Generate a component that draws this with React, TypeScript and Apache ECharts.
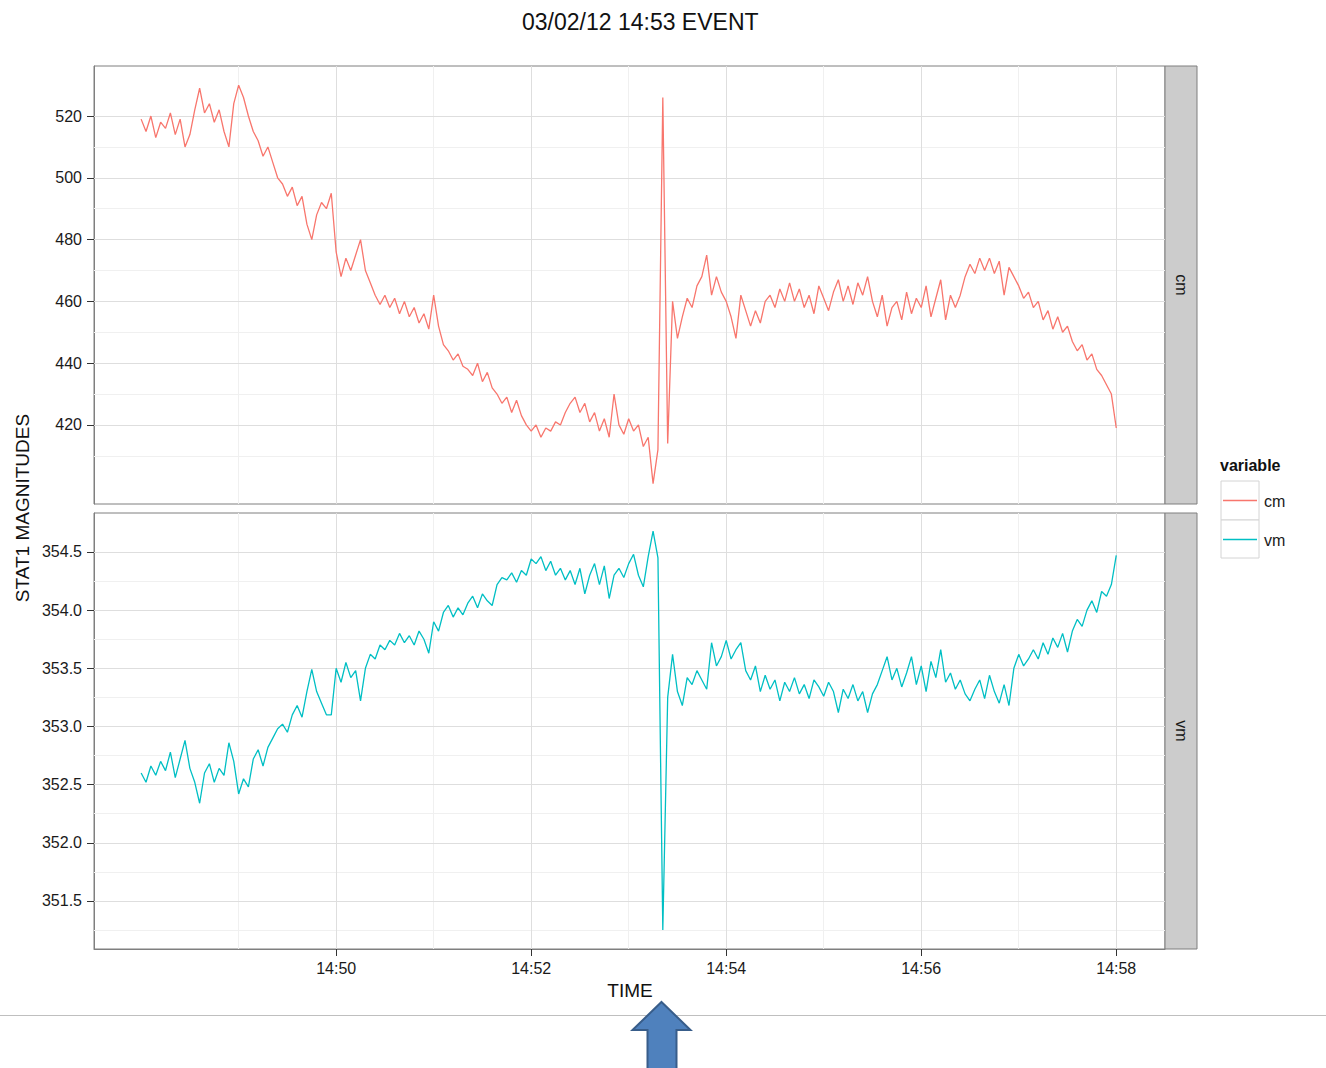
import React, { useEffect, useRef } from 'react';
import * as echarts from 'echarts';

const TITLE = '03/02/12 14:53 EVENT';
const X_TITLE = 'TIME';
const Y_TITLE = 'STAT1 MAGNITUDES';
const LEGEND_TITLE = 'variable';
const SERIES_NAMES = ['cm', 'vm'];
const SERIES_COLORS = ['#F8766D', '#00BFC4'];

// samples every 3 seconds, starting at 14:48:00
const START_MINUTE = 14 * 60 + 48;
const STEP_SEC = 3;

const cmValues = [
  519, 515, 520, 513, 518, 516, 521, 514, 519, 510,
  514, 522, 529, 521, 524, 518, 522, 515, 510, 524,
  530, 526, 520, 515, 512, 507, 510, 505, 500, 498,
  494, 497, 491, 494, 485, 480, 488, 492, 490, 495,
  476, 468, 474, 470, 475, 480, 470, 466, 462, 459,
  462, 458, 461, 456, 460, 455, 458, 453, 456, 451,
  462, 452, 446, 444, 441, 443, 439, 438, 436, 440,
  434, 437, 432, 430, 427, 429, 424, 428, 423, 420,
  418, 420, 416, 419, 418, 421, 420, 424, 427, 429,
  424, 427, 421, 424, 418, 422, 416, 430, 420, 417,
  422, 418, 420, 413, 416, 401, 412, 526, 414, 460,
  448, 455, 461, 458, 465, 468, 475, 462, 468, 463,
  460, 455, 448, 462, 457, 452, 457, 453, 460, 462,
  458, 464, 460, 466, 460, 464, 458, 462, 456, 465,
  461, 457, 463, 467, 460, 465, 459, 466, 462, 468,
  460, 455, 462, 452, 458, 460, 454, 463, 456, 461,
  458, 465, 455, 461, 467, 454, 462, 458, 462, 468,
  472, 469, 474, 470, 474, 469, 473, 462, 471, 468,
  465, 461, 463, 458, 460, 454, 457, 451, 455, 450,
  452, 447, 444, 446, 441, 443, 438, 436, 433, 430,
  419,
];

const vmValues = [
  352.60, 352.52, 352.66, 352.58, 352.70, 352.62, 352.78, 352.56, 352.72, 352.88,
  352.64, 352.52, 352.34, 352.60, 352.68, 352.52, 352.64, 352.58, 352.86, 352.70,
  352.42, 352.55, 352.48, 352.72, 352.80, 352.66, 352.82, 352.90, 352.98, 353.02,
  352.95, 353.10, 353.18, 353.08, 353.30, 353.49, 353.30, 353.20, 353.10, 353.10,
  353.50, 353.38, 353.55, 353.42, 353.48, 353.22, 353.50, 353.62, 353.58, 353.70,
  353.66, 353.74, 353.70, 353.80, 353.72, 353.78, 353.70, 353.82, 353.75, 353.63,
  353.90, 353.82, 353.98, 354.04, 353.94, 354.02, 353.96, 354.06, 354.12, 354.02,
  354.14, 354.08, 354.04, 354.22, 354.28, 354.26, 354.32, 354.24, 354.34, 354.30,
  354.44, 354.40, 354.46, 354.34, 354.42, 354.30, 354.36, 354.26, 354.34, 354.22,
  354.36, 354.14, 354.30, 354.40, 354.22, 354.38, 354.10, 354.30, 354.36, 354.28,
  354.40, 354.48, 354.30, 354.20, 354.46, 354.68, 354.45, 351.25, 353.25, 353.62,
  353.30, 353.18, 353.42, 353.36, 353.48, 353.40, 353.32, 353.72, 353.52, 353.60,
  353.74, 353.58, 353.66, 353.72, 353.48, 353.40, 353.52, 353.30, 353.44, 353.32,
  353.40, 353.22, 353.38, 353.30, 353.42, 353.28, 353.36, 353.24, 353.40, 353.34,
  353.26, 353.38, 353.30, 353.12, 353.32, 353.24, 353.36, 353.22, 353.30, 353.12,
  353.28, 353.36, 353.48, 353.60, 353.40, 353.50, 353.34, 353.46, 353.60, 353.36,
  353.52, 353.30, 353.56, 353.42, 353.66, 353.38, 353.46, 353.32, 353.40, 353.28,
  353.22, 353.32, 353.40, 353.24, 353.44, 353.30, 353.20, 353.36, 353.18, 353.50,
  353.62, 353.52, 353.58, 353.66, 353.58, 353.72, 353.62, 353.76, 353.68, 353.80,
  353.64, 353.82, 353.92, 353.86, 354.00, 354.08, 353.98, 354.16, 354.12, 354.22,
  354.47,
];

// axis breaks (seconds after 14:48:00)
const xMajorSec = [120, 240, 360, 480, 600];
const xMinorSec = [60, 180, 300, 420, 540];
const cmMajor = [420, 440, 460, 480, 500, 520];
const cmMinor = [410, 430, 450, 470, 490, 510];
const vmMajor = [351.5, 352.0, 352.5, 353.0, 353.5, 354.0, 354.5];
const vmMinor = [351.25, 351.75, 352.25, 352.75, 353.25, 353.75, 354.25];

const FONT = '"Liberation Sans", Arial, Helvetica, sans-serif';
const MAJOR_GRID = '#dedede';
const MINOR_GRID = '#f0f0f0';
const BORDER = '#7f7f7f';
const TICK = '#333333';

function fmtTime(v: number) {
  const m = START_MINUTE + Math.round(v / 60);
  return `${Math.floor(m / 60)}:${String(m % 60).padStart(2, '0')}`;
}

function gridLines(yMajor: number[], yMinor: number[]) {
  const items: any[] = [];
  xMinorSec.forEach((v) => items.push({ xAxis: v, lineStyle: { color: MINOR_GRID } }));
  yMinor.forEach((v) => items.push({ yAxis: v, lineStyle: { color: MINOR_GRID } }));
  xMajorSec.forEach((v) => items.push({ xAxis: v, lineStyle: { color: MAJOR_GRID } }));
  yMajor.forEach((v) => items.push({ yAxis: v, lineStyle: { color: MAJOR_GRID } }));
  return {
    silent: true,
    symbol: ['none', 'none'],
    z: 1,
    animation: false,
    label: { show: false },
    emphasis: { disabled: true },
    lineStyle: { type: 'solid', width: 1 },
    data: items,
  };
}

export default function App() {
  const ref = useRef<HTMLDivElement>(null);

  useEffect(() => {
    document.body.style.margin = '0';
    if (!ref.current) return;
    const chart = echarts.init(ref.current, undefined, { renderer: 'svg' });

    const axisLine = { show: true, onZero: false, lineStyle: { color: BORDER, width: 1 } };
    const tick = (vals: number[]) => ({ show: true, inside: false, length: 7, customValues: vals, lineStyle: { color: TICK, width: 1 } });

    const yLabel = (vals: number[], digits: number) => ({
      customValues: vals,
      fontSize: 16,
      color: '#1a1a1a',
      fontFamily: FONT,
      margin: 12,
      formatter: (v: number) => v.toFixed(digits),
    });

    const option: any = {
      animation: false,
      backgroundColor: '#ffffff',
      textStyle: { fontFamily: FONT },
      title: {
        text: TITLE,
        left: 517,
        top: 5,
        textStyle: { fontSize: 23, fontWeight: 'normal', color: '#111', fontFamily: FONT },
      },
      grid: [
        { left: 94, top: 66, width: 1071, height: 438, show: true, borderColor: BORDER, borderWidth: 1, backgroundColor: '#fff' },
        { left: 94, top: 513, width: 1071, height: 436, show: true, borderColor: BORDER, borderWidth: 1, backgroundColor: '#fff' },
      ],
      xAxis: [
        {
          gridIndex: 0, type: 'value', min: -29, max: 630,
          axisLine: { show: false }, axisTick: { show: false }, axisLabel: { show: false }, splitLine: { show: false },
        },
        {
          gridIndex: 1, type: 'value', min: -29, max: 630, position: 'bottom',
          axisLine,
          axisTick: tick(xMajorSec),
          axisLabel: { customValues: xMajorSec, fontSize: 16, color: '#1a1a1a', fontFamily: FONT, margin: 11, formatter: fmtTime },
          splitLine: { show: false },
        },
      ],
      yAxis: [
        {
          gridIndex: 0, type: 'value', min: 394.4, max: 536.2, position: 'left',
          axisLine,
          axisTick: tick(cmMajor),
          axisLabel: yLabel(cmMajor, 0),
          splitLine: { show: false },
        },
        {
          gridIndex: 1, type: 'value', min: 351.087, max: 354.835, position: 'left',
          axisLine,
          axisTick: tick(vmMajor),
          axisLabel: yLabel(vmMajor, 1),
          splitLine: { show: false },
        },
      ],
      series: [
        {
          name: SERIES_NAMES[0], type: 'line', xAxisIndex: 0, yAxisIndex: 0, z: 3,
          data: cmValues.map((v, i) => [i * STEP_SEC, v]),
          showSymbol: false, symbol: 'none',
          lineStyle: { color: SERIES_COLORS[0], width: 1.3 },
          itemStyle: { color: SERIES_COLORS[0] },
          markLine: gridLines(cmMajor, cmMinor),
        },
        {
          name: SERIES_NAMES[1], type: 'line', xAxisIndex: 1, yAxisIndex: 1, z: 3,
          data: vmValues.map((v, i) => [i * STEP_SEC, v]),
          showSymbol: false, symbol: 'none',
          lineStyle: { color: SERIES_COLORS[1], width: 1.3 },
          itemStyle: { color: SERIES_COLORS[1] },
          markLine: gridLines(vmMajor, vmMinor),
        },
      ],
      graphic: [
        // facet strips
        { type: 'rect', shape: { x: 1165, y: 66, width: 32, height: 438 }, style: { fill: '#cccccc', stroke: BORDER, lineWidth: 1 } },
        { type: 'rect', shape: { x: 1165, y: 513, width: 32, height: 436 }, style: { fill: '#cccccc', stroke: BORDER, lineWidth: 1 } },
        { type: 'text', x: 1181, y: 285, rotation: -Math.PI / 2, style: { text: SERIES_NAMES[0], fontSize: 16, fill: '#1a1a1a', fontFamily: FONT, align: 'center', verticalAlign: 'middle' } },
        { type: 'text', x: 1181, y: 731, rotation: -Math.PI / 2, style: { text: SERIES_NAMES[1], fontSize: 16, fill: '#1a1a1a', fontFamily: FONT, align: 'center', verticalAlign: 'middle' } },
        // axis titles
        { type: 'text', x: 22, y: 508, rotation: Math.PI / 2, style: { text: Y_TITLE, fontSize: 19, fill: '#111', fontFamily: FONT, align: 'center', verticalAlign: 'middle' } },
        { type: 'text', x: 630, y: 990, style: { text: X_TITLE, fontSize: 19, fill: '#111', fontFamily: FONT, align: 'center', verticalAlign: 'middle' } },
        // legend
        { type: 'text', x: 1220, y: 465, style: { text: LEGEND_TITLE, fontSize: 16, fontWeight: 'bold', fill: '#111', fontFamily: FONT, align: 'left', verticalAlign: 'middle' } },
        { type: 'rect', shape: { x: 1221, y: 481, width: 38, height: 39 }, style: { fill: '#fff', stroke: '#d4d4d4', lineWidth: 1 } },
        { type: 'rect', shape: { x: 1221, y: 520, width: 38, height: 38 }, style: { fill: '#fff', stroke: '#d4d4d4', lineWidth: 1 } },
        { type: 'line', shape: { x1: 1223, y1: 500.5, x2: 1257, y2: 500.5 }, style: { stroke: SERIES_COLORS[0], lineWidth: 1.5 } },
        { type: 'line', shape: { x1: 1223, y1: 539.5, x2: 1257, y2: 539.5 }, style: { stroke: SERIES_COLORS[1], lineWidth: 1.5 } },
        { type: 'text', x: 1264, y: 501, style: { text: SERIES_NAMES[0], fontSize: 16, fill: '#1a1a1a', fontFamily: FONT, align: 'left', verticalAlign: 'middle' } },
        { type: 'text', x: 1264, y: 540, style: { text: SERIES_NAMES[1], fontSize: 16, fill: '#1a1a1a', fontFamily: FONT, align: 'left', verticalAlign: 'middle' } },
        // slide separator and arrow
        { type: 'line', shape: { x1: 0, y1: 1015.5, x2: 1326, y2: 1015.5 }, style: { stroke: '#bfbfbf', lineWidth: 1 } },
        {
          type: 'polygon',
          shape: { points: [[661.5, 1002], [690.5, 1030], [676.5, 1030], [676.5, 1070], [647.5, 1070], [647.5, 1030], [632.5, 1030]] },
          style: { fill: '#4F81BD', stroke: '#385D8A', lineWidth: 2 },
        },
      ],
    };

    chart.setOption(option);
    return () => chart.dispose();
  }, []);

  return <div ref={ref} style={{ width: 1326, height: 1068 }} />;
}
